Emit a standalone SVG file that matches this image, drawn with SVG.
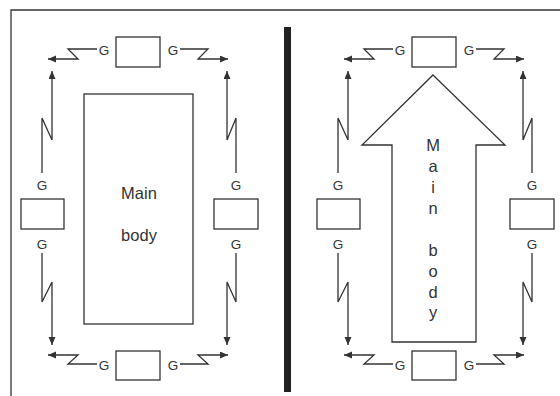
<svg xmlns="http://www.w3.org/2000/svg" width="560" height="396" viewBox="0 0 560 396">
<defs>
<style>
.box{fill:#fff;stroke:#333;stroke-width:1.3}
.ln{fill:none;stroke:#333;stroke-width:1.3;marker-end:url(#ah)}
.g{font-family:"Liberation Sans",Arial,sans-serif;font-size:13.5px;fill:#333;text-anchor:middle}
.t{font-family:"Liberation Sans",Arial,sans-serif;font-size:16.5px;fill:#333;text-anchor:middle}
</style>
<marker id="ah" markerUnits="userSpaceOnUse" markerWidth="10" markerHeight="8" refX="8" refY="3.5" orient="auto">
<path d="M0,0 L8,3.5 L0,7 Z" fill="#333"/>
</marker>
</defs>
<rect width="560" height="396" fill="#fff"/>
<g id="frame" fill="none" stroke="#333" stroke-width="1.3">
<path d="M11,396 L11,10 L560,10"/>
</g>
<rect id="divider" x="284" y="27" width="7" height="365" fill="#222"/>

<g id="left-panel">
<g id="L-main"><rect class="box" x="84" y="94" width="109" height="230"/>
<text class="t" x="139" y="199">Main</text><text class="t" x="139" y="241">body</text></g>
<g id="L-top"><rect class="box" x="116" y="37" width="44" height="30"/><text class="g" x="104" y="55">G</text><text class="g" x="173" y="55">G</text></g>
<g id="L-bottom"><rect class="box" x="116" y="351" width="44" height="29"/><text class="g" x="104" y="370">G</text><text class="g" x="173" y="370">G</text></g>
<g id="L-left"><rect class="box" x="21" y="199" width="43" height="30"/><text class="g" x="42" y="190">G</text><text class="g" x="42" y="249">G</text></g>
<g id="L-right"><rect class="box" x="214" y="199" width="44" height="30"/><text class="g" x="236" y="190">G</text><text class="g" x="236" y="249">G</text></g>
<g id="L-connectors">
<path class="ln" d="M97,49 L68,49 L78,59 L48,59"/>
<path class="ln" d="M180,49 L208,49 L198,59 L228,59"/>
<path class="ln" d="M97,364 L68,364 L78,355 L48,355"/>
<path class="ln" d="M180,364 L208,364 L198,355 L228,355"/>
<path class="ln" d="M42,173 L42,118 L52,140 L52,71"/>
<path class="ln" d="M236,173 L236,118 L227,140 L227,71"/>
<path class="ln" d="M42,253 L42,302 L52,282 L52,345"/>
<path class="ln" d="M236,253 L236,302 L227,282 L227,345"/>
</g>
</g>

<g id="right-panel">
<g id="R-main"><polygon class="box" points="433,75 505,145 476,145 476,342 392,342 392,145 362,145"/>
<text class="t" x="433" y="151">M</text><text class="t" x="433" y="172">a</text><text class="t" x="433" y="193">i</text><text class="t" x="433" y="214">n</text>
<text class="t" x="433" y="256">b</text><text class="t" x="433" y="277">o</text><text class="t" x="433" y="298">d</text><text class="t" x="433" y="318">y</text></g>
<g id="R-top"><rect class="box" x="412" y="37" width="44" height="30"/><text class="g" x="400" y="55">G</text><text class="g" x="469" y="55">G</text></g>
<g id="R-bottom"><rect class="box" x="412" y="351" width="44" height="29"/><text class="g" x="400" y="370">G</text><text class="g" x="469" y="370">G</text></g>
<g id="R-left"><rect class="box" x="317" y="199" width="43" height="30"/><text class="g" x="338" y="190">G</text><text class="g" x="338" y="249">G</text></g>
<g id="R-right"><rect class="box" x="510" y="199" width="44" height="30"/><text class="g" x="532" y="190">G</text><text class="g" x="532" y="249">G</text></g>
<g id="R-connectors">
<path class="ln" d="M393,49 L364,49 L374,59 L344,59"/>
<path class="ln" d="M476,49 L504,49 L494,59 L524,59"/>
<path class="ln" d="M393,364 L364,364 L374,355 L344,355"/>
<path class="ln" d="M476,364 L504,364 L494,355 L524,355"/>
<path class="ln" d="M338,173 L338,118 L348,140 L348,71"/>
<path class="ln" d="M532,173 L532,118 L523,140 L523,71"/>
<path class="ln" d="M338,253 L338,302 L348,282 L348,345"/>
<path class="ln" d="M532,253 L532,302 L523,282 L523,345"/>
</g>
</g>
</svg>
